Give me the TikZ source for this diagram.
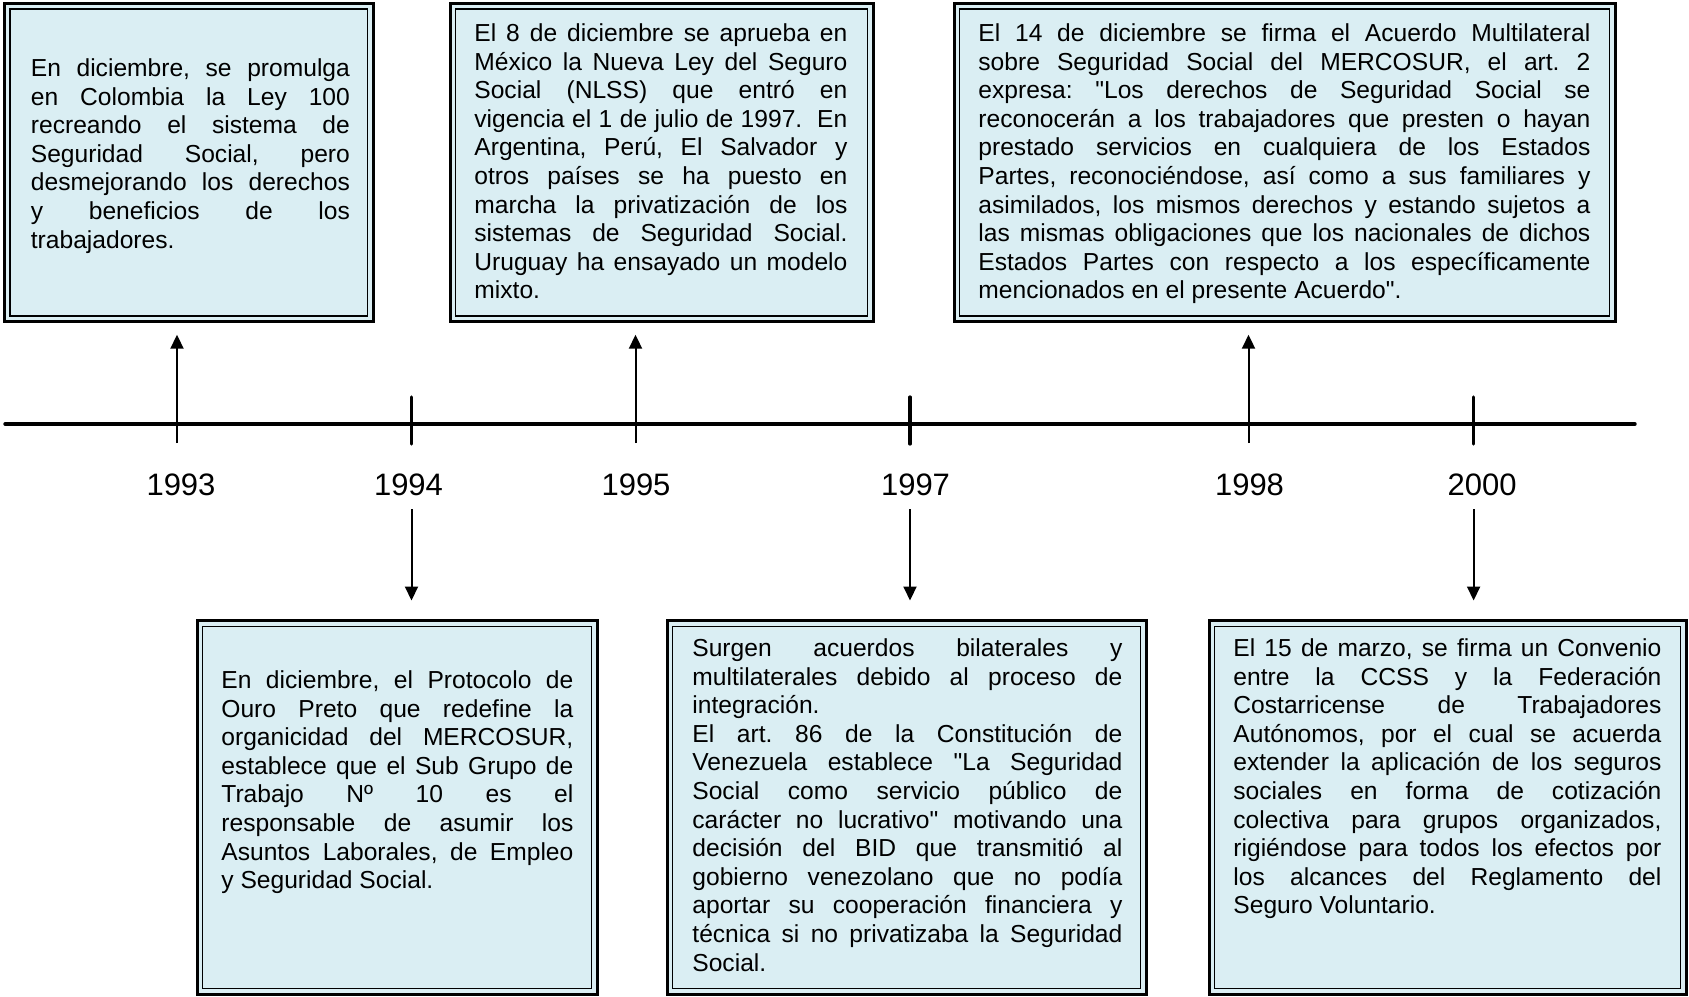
\documentclass[tikz,border=0pt]{standalone}
\usepackage{fontspec}
\setmainfont{Liberation Sans}[Ligatures=TeXOff]
\usetikzlibrary{arrows.meta,calc,fit}

\definecolor{celeste}{HTML}{DAEEF3}
\newcommand{\cuerpo}{\fontsize{12.3pt}{14.3pt}\selectfont}
\newcommand{\anios}{\fontsize{15.5pt}{18pt}\selectfont}
\frenchspacing
\tolerance=10000
\hyphenpenalty=10000
\setlength{\parindent}{0pt}

\begin{document}
\begin{tikzpicture}[
  x=0.5pt, y=-0.5pt,
  caja/.style={
    draw, line width=1.5pt, fill=celeste, inner sep=0pt, outer sep=0pt
  },
  texto/.style={
    anchor=north west, inner sep=0pt, align=justify, font=\cuerpo,
    execute at begin node=\strut
  },
  anio/.style={font=\anios, inner sep=0pt},
  eje/.style={line width=1.7pt, line cap=round},
  marca/.style={line width=1.6pt, line cap=round},
  flecha/.style={-{Triangle[width=6.5pt,length=7pt]}, line width=1pt}
  ]
  \useasboundingbox (0,0) rectangle (1689,996);

  % cajas de arriba
  \node[caja, fit={(4.3,3.3) (373,321.7)}] (c93) {};
  \node[caja, fit={(450,3.3) (873,321.7)}] (c95) {};
  \node[caja, fit={(954,3.3) (1615,321.7)}] (c98) {};
  % cajas de abajo
  \node[caja, fit={(197,620.5) (597,994)}] (c94) {};
  \node[caja, fit={(667,620.5) (1146,994)}] (c97) {};
  \node[caja, fit={(1209,620.5) (1686,994)}] (c00) {};

  % segundo marco
  \foreach \c in {c93,c95,c98,c94,c97,c00}
    \draw[line width=0.6pt] ([xshift=2.85pt,yshift=-2.85pt]\c.north west)
      rectangle ([xshift=-2.85pt,yshift=2.85pt]\c.south east);

  \node[texto, text width=159.5pt] (t93) at (30.5,56) {En diciembre, se promulga\linebreak
    en Colombia la Ley 100\linebreak
    recreando el sistema de\linebreak
    Seguridad Social, pero\linebreak
    desmejorando los derechos\linebreak
    y beneficios de los\linebreak
    trabajadores.};
  \node[texto, text width=186.5pt] (t95) at (474,21) {El 8 de diciembre se aprueba en\linebreak
    México la Nueva Ley del Seguro\linebreak
    Social (NLSS) que entró en\linebreak
    vigencia el 1 de julio de 1997.\ \ En\linebreak
    Argentina, Perú, El Salvador y\linebreak
    otros países se ha puesto en\linebreak
    marcha la privatización de los\linebreak
    sistemas de Seguridad Social.\linebreak
    Uruguay ha ensayado un modelo\linebreak
    mixto.};
  \node[texto, text width=306pt] (t98) at (978,21) {El 14 de diciembre se firma el Acuerdo Multilateral\linebreak
    sobre Seguridad Social del MERCOSUR, el art. 2\linebreak
    expresa: "Los derechos de Seguridad Social se\linebreak
    reconocerán a los trabajadores que presten o hayan\linebreak
    prestado servicios en cualquiera de los Estados\linebreak
    Partes, reconociéndose, así como a sus familiares y\linebreak
    asimilados, los mismos derechos y estando sujetos a\linebreak
    las mismas obligaciones que los nacionales de dichos\linebreak
    Estados Partes con respecto a los específicamente\linebreak
    mencionados en el presente Acuerdo".};
  \node[texto, text width=176pt] (t94) at (221,668) {En diciembre, el Protocolo de\linebreak
    Ouro Preto que redefine la\linebreak
    organicidad del MERCOSUR,\linebreak
    establece que el Sub Grupo de\linebreak
    Trabajo Nº 10 es el\linebreak
    responsable de asumir los\linebreak
    Asuntos Laborales, de Empleo\linebreak
    y Seguridad Social.};
  \node[texto, text width=215pt] (t97) at (692,636) {Surgen acuerdos bilaterales y\linebreak
    multilaterales debido al proceso de\linebreak
    integración.\par
    El art. 86 de la Constitución de\linebreak
    Venezuela establece "La Seguridad\linebreak
    Social como servicio público de\linebreak
    carácter no lucrativo" motivando una\linebreak
    decisión del BID que transmitió al\linebreak
    gobierno venezolano que no podía\linebreak
    aportar su cooperación financiera y\linebreak
    técnica si no privatizaba la Seguridad\linebreak
    Social.};
  \node[texto, text width=214pt] (t00) at (1233,636) {El 15 de marzo, se firma un Convenio\linebreak
    entre la CCSS y la Federación\linebreak
    Costarricense de Trabajadores\linebreak
    Autónomos, por el cual se acuerda\linebreak
    extender la aplicación de los seguros\linebreak
    sociales en forma de cotización\linebreak
    colectiva para grupos organizados,\linebreak
    rigiéndose para todos los efectos por\linebreak
    los alcances del Reglamento del\linebreak
    Seguro Voluntario.};

  % linea de tiempo
  \coordinate (inicio) at (5,424);
  \coordinate (fin) at (1635,424);
  \draw[eje] (inicio) -- (fin);

  \coordinate (m93) at (177,424);
  \coordinate (m94) at (411.5,424);
  \coordinate (m95) at (635.5,424);
  \coordinate (m97) at (910,424);
  \coordinate (m98) at (1248.5,424);
  \coordinate (m00) at (1473.6,424);

  \node[anio] (y93) at (181,485) {1993};
  \node[anio] (y94) at (408.5,485) {1994};
  \node[anio] (y95) at (636,485) {1995};
  \node[anio] (y97) at (915.5,485) {1997};
  \node[anio] (y98) at (1249.5,485) {1998};
  \node[anio] (y00) at (1482,485) {2000};

  \foreach \m in {m94,m97,m00}
    \draw[marca] ($(\m)+(0,-27)$) -- ($(\m)+(0,20)$);

  \draw[flecha] ($(m93)+(0,19)$) -- ($(m93 |- c93.south)+(0,13)$);
  \draw[flecha] ($(m95)+(0,19)$) -- ($(m95 |- c95.south)+(0,13)$);
  \draw[flecha] ($(m98)+(0,19)$) -- ($(m98 |- c98.south)+(0,13)$);
  \draw[flecha] ($(m94)+(0,85)$) -- ($(m94 |- c94.north)+(0,-20)$);
  \draw[flecha] ($(m97)+(0,85)$) -- ($(m97 |- c97.north)+(0,-20)$);
  \draw[flecha] ($(m00)+(0,85)$) -- ($(m00 |- c00.north)+(0,-20)$);
\end{tikzpicture}
\end{document}
